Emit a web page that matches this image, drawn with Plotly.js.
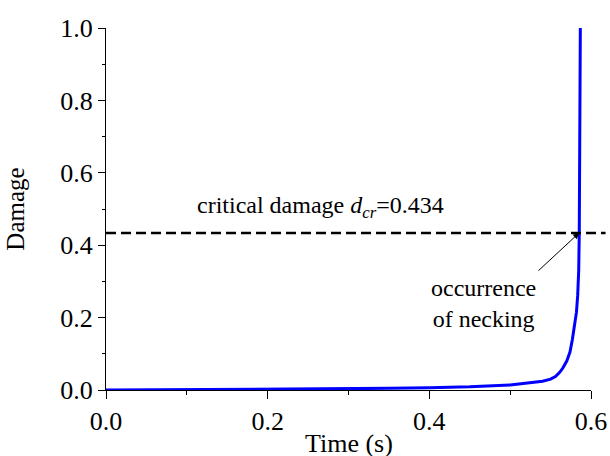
<!DOCTYPE html>
<html>
<head>
<meta charset="utf-8">
<script src="https://cdn.plot.ly/plotly-3.0.1.min.js"></script>
<style>
  html, body { margin: 0; padding: 0; background: #fff; }
  #chart { width: 610px; height: 456px; }
</style>
</head>
<body>
<div id="chart"></div>
<script>
// Damage evolution data
var time = [0, 0.05, 0.1, 0.15, 0.2, 0.25, 0.3, 0.35, 0.4, 0.45, 0.5, 0.52, 0.54, 0.55, 0.556, 0.561, 0.565, 0.57, 0.574, 0.577, 0.58, 0.582, 0.5835, 0.5848, 0.5855, 0.5862, 0.5868];
var damage = [0, 0.0005, 0.001, 0.0015, 0.002, 0.0025, 0.003, 0.0045, 0.0065, 0.009, 0.014, 0.018, 0.024, 0.030, 0.037, 0.048, 0.06, 0.08, 0.105, 0.14, 0.185, 0.215, 0.26, 0.33, 0.434, 0.66, 1.0];

var criticalDamage = 0.434;
var neckingPoint = {t: 0.5853, d: 0.434};
var arrowTail = {t: 0.5332, d: 0.326};

var xTicks = [0, 0.2, 0.4, 0.6];
var xTickLabels = ['0.0', '0.2', '0.4', '0.6'];
var yTicks = [0, 0.2, 0.4, 0.6, 0.8, 1.0];
var yTickLabels = ['0.0', '0.2', '0.4', '0.6', '0.8', '1.0'];
var xTitle = 'Time (s)';
var yTitle = 'Damage';

var FONT = '"Liberation Serif", "Times New Roman", serif';

var trace = {
  x: time,
  y: damage,
  type: 'scatter',
  mode: 'lines',
  line: {color: '#0000FF', width: 3},
  hoverinfo: 'skip',
  showlegend: false
};

var layout = {
  width: 610,
  height: 456,
  margin: {l: 106, r: 19, t: 28, b: 66},
  paper_bgcolor: '#ffffff',
  plot_bgcolor: '#ffffff',
  font: {family: FONT, color: '#000', size: 26},
  showlegend: false,
  xaxis: {
    range: [0, 0.6],
    tickmode: 'array',
    tickvals: xTicks,
    ticktext: xTickLabels,
    ticks: 'outside',
    ticklen: 8,
    tickwidth: 1,
    tickcolor: '#000',
    showline: true,
    linecolor: '#000',
    linewidth: 1,
    showgrid: false,
    zeroline: false,
    tickfont: {family: FONT, size: 26, color: '#000'},
    minor: {dtick: 0.1, tick0: 0, ticks: 'outside', ticklen: 4, tickcolor: '#000', tickwidth: 1, showgrid: false},
    automargin: false
  },
  yaxis: {
    range: [0, 1.0],
    tickmode: 'array',
    tickvals: yTicks,
    ticktext: yTickLabels,
    ticks: 'outside',
    ticklen: 7,
    tickwidth: 1,
    tickcolor: '#000',
    showline: true,
    linecolor: '#000',
    linewidth: 1,
    showgrid: false,
    zeroline: false,
    tickfont: {family: FONT, size: 26, color: '#000'},
    minor: {dtick: 0.1, tick0: 0, ticks: 'outside', ticklen: 3, tickcolor: '#000', tickwidth: 1, showgrid: false},
    title: {text: yTitle, font: {family: FONT, size: 25, color: '#000'}, standoff: 28},
    automargin: false
  },
  shapes: [{
    type: 'line',
    xref: 'paper', yref: 'y',
    x0: 0, x1: 1.03,
    y0: criticalDamage, y1: criticalDamage,
    line: {color: '#000', width: 2.5, dash: '10px,5px'}
  }],
  annotations: [
    {
      xref: 'paper', yref: 'paper',
      x: 0.5, y: -0.1478,
      xanchor: 'center', yanchor: 'middle',
      text: xTitle,
      showarrow: false,
      font: {family: FONT, size: 26, color: '#000'}
    },
    {
      xref: 'x', yref: 'y',
      x: 0.110, y: 0.505,
      xanchor: 'left', yanchor: 'middle',
      text: 'critical damage <i>d</i><sub><i>cr</i></sub>=' + criticalDamage,
      showarrow: false,
      font: {family: FONT, size: 24, color: '#000'}
    },
    {
      xref: 'x', yref: 'y',
      x: 0.4664, y: 0.2376,
      xanchor: 'center', yanchor: 'middle',
      text: 'occurrence<br>of necking',
      showarrow: false,
      font: {family: FONT, size: 24, color: '#000'}
    },
    {
      xref: 'x', yref: 'y',
      axref: 'x', ayref: 'y',
      x: neckingPoint.t, y: neckingPoint.d,
      ax: arrowTail.t, ay: arrowTail.d,
      text: '',
      showarrow: true,
      arrowhead: 2,
      arrowsize: 1.2,
      arrowwidth: 1,
      arrowcolor: '#000',
      standoff: 0,
      startstandoff: 0
    }
  ]
};

Plotly.newPlot('chart', [trace], layout, {staticPlot: true, displayModeBar: false});
</script>
</body>
</html>
